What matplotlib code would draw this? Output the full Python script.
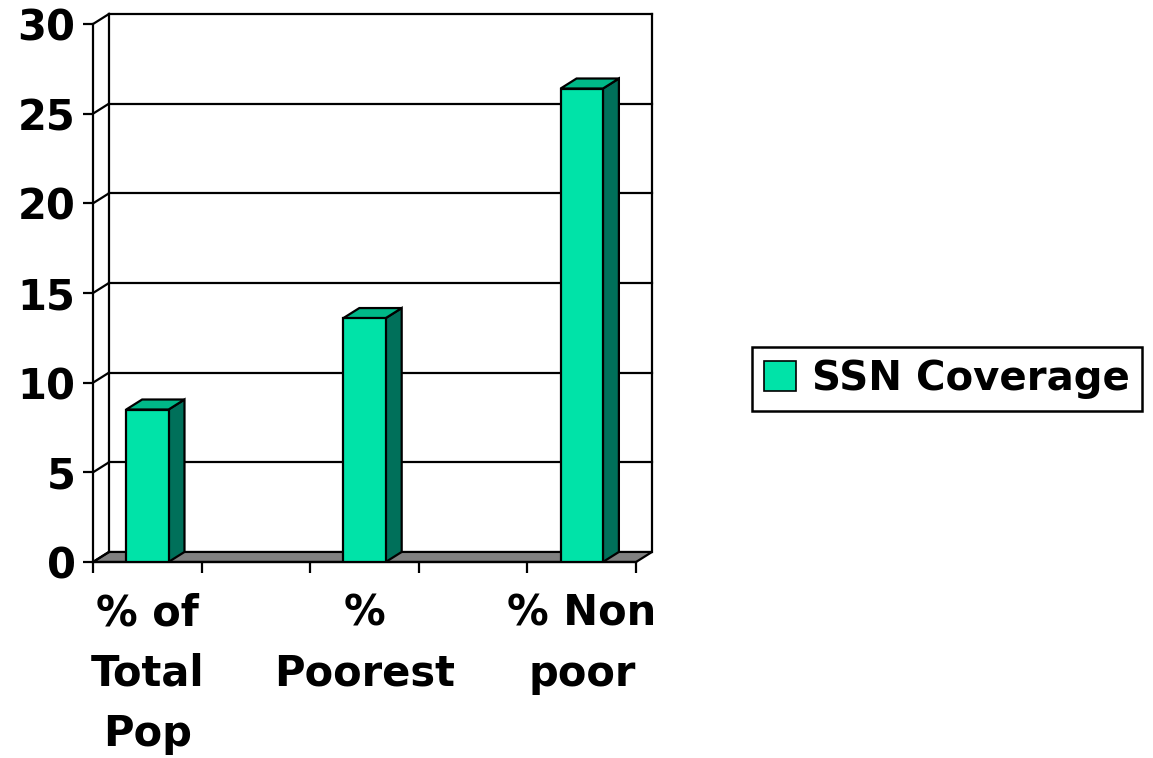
import numpy as np
import matplotlib.pyplot as plt
from matplotlib.patches import Polygon

plt.rcParams['font.family'] = ['DejaVu Sans']
plt.rcParams['font.weight'] = 'bold'

categories = ["% of\nTotal\nPop", "%\nPoorest", "% Non\npoor"]
values = [8.5, 13.6, 26.4]
series_name = "SSN Coverage"
yticks = [0, 5, 10, 15, 20, 25, 30]

front_col = "#00E3A8"
side_col = "#00705A"
top_col = "#00B888"

n_slots = 5          # blank slot between each category
dx, dy = 0.147, 0.56  # depth offset in data units
bw = 0.39

fig = plt.figure(figsize=(11.53, 7.58), dpi=100)
ax = fig.add_axes([0.0807, 0.2586, 0.4848, 0.7230])
ax.set_xlim(0, n_slots + dx)
ax.set_ylim(0, 30 + dy)
for s in ax.spines.values():
    s.set_visible(False)

lw = 1.6
# floor
ax.add_patch(Polygon([(0, 0), (n_slots, 0), (n_slots + dx, dy), (dx, dy)],
                     closed=True, facecolor="#808080", edgecolor="black", lw=lw, clip_on=False, zorder=1))
# walls / gridlines
for v in yticks:
    ax.plot([0, dx], [v, v + dy], color="black", lw=lw, clip_on=False, zorder=1)
    if v > 0:
        ax.plot([dx, n_slots + dx], [v + dy, v + dy], color="black", lw=lw, clip_on=False, zorder=1)
ax.plot([dx, dx], [dy, 30 + dy], color="black", lw=lw, clip_on=False, zorder=1)
ax.plot([n_slots + dx, n_slots + dx], [dy, 30 + dy], color="black", lw=lw, clip_on=False, zorder=1)
ax.plot([0, 0], [0, 30], color="black", lw=lw, clip_on=False, zorder=1)
ax.plot([0, n_slots], [0, 0], color="black", lw=lw, clip_on=False, zorder=1)

# 3D bars
centers = []
for i, v in enumerate(values):
    c = 2 * i + 0.5
    centers.append(c)
    x0, x1 = c - bw / 2, c + bw / 2
    ax.add_patch(Polygon([(x1, 0), (x1 + dx, dy), (x1 + dx, v + dy), (x1, v)],
                         closed=True, facecolor=side_col, edgecolor="black", lw=lw, zorder=3))
    ax.add_patch(Polygon([(x0, v), (x0 + dx, v + dy), (x1 + dx, v + dy), (x1, v)],
                         closed=True, facecolor=top_col, edgecolor="black", lw=lw, zorder=3))
    ax.add_patch(Polygon([(x0, 0), (x1, 0), (x1, v), (x0, v)],
                         closed=True, facecolor=front_col, edgecolor="black", lw=lw, zorder=4))

ax.set_yticks(yticks)
ax.set_yticklabels([str(t) for t in yticks])
ax.tick_params(axis='y', direction='out', length=7.5, width=lw, labelsize=30, pad=5)
ax.set_xticks(np.arange(n_slots + 1))
ax.set_xticklabels([])
ax.tick_params(axis='x', which='major', direction='out', length=8, width=lw)
ax.set_xticks(centers, minor=True)
ax.set_xticklabels(categories, minor=True, fontsize=30, linespacing=1.55)
ax.tick_params(axis='x', which='minor', length=0, pad=22)

proxy = Polygon([(0, 0)], facecolor=front_col, edgecolor="black", lw=1.2)
leg = fig.legend([proxy], [series_name], loc='center left', bbox_to_anchor=(0.652, 0.5),
                 fontsize=29, frameon=True, fancybox=False, framealpha=1, borderaxespad=0,
                 handlelength=0.8, handleheight=0.8, handletextpad=0.4, borderpad=0.3)
leg.get_frame().set_edgecolor("black")
leg.get_frame().set_linewidth(1.8)

plt.savefig("out.png", dpi=100)
